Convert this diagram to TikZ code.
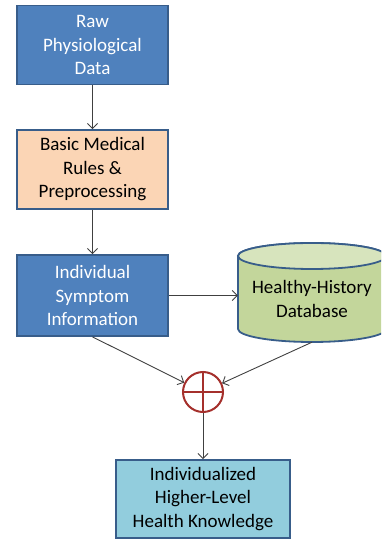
\documentclass[tikz,border=0pt]{standalone}
\usepackage{fontspec}
\setmainfont{Carlito}
\usetikzlibrary{arrows.meta}
\definecolor{bluefill}{HTML}{4F81BD}
\definecolor{boxborder}{HTML}{385D8A}
\definecolor{peach}{HTML}{FBD5B5}
\definecolor{greenbody}{HTML}{C3D69B}
\definecolor{greentop}{HTML}{D7E4BD}
\definecolor{cyanfill}{HTML}{92CDDD}
\definecolor{plusred}{HTML}{A5302C}
\definecolor{linegray}{HTML}{404040}
\begin{document}
\begin{tikzpicture}[x=1pt,y=1pt,
  lbl/.style={font=\fontsize{19}{23.5}\selectfont},
  box/.style={draw=boxborder, line width=1.8pt, align=center, inner sep=0pt, lbl},
  conn/.style={draw=linegray, line width=0.9pt, -{Straight Barb[length=5pt,width=10pt]}}]
\useasboundingbox (0,0) rectangle (381,539);
\clip (0,0) rectangle (381,539);
\node[box, fill=bluefill, text=white, minimum width=151pt, minimum height=79pt] (raw) at (92.5,494) {Raw\\Physiological\\Data};
\node[box, fill=peach, text=black, minimum width=151pt, minimum height=79pt] (rules) at (92.5,369.5) {Basic Medical\\Rules \&\\Preprocessing};
\node[box, fill=bluefill, text=white, minimum width=151pt, minimum height=81pt] (sym) at (92.5,243.5) {Individual\\Symptom\\Information};
\node[box, fill=cyanfill, text=black, minimum width=174pt, minimum height=78pt] (know) at (203,40) {Individualized\\Higher-Level\\Health Knowledge};
% database cylinder
\node[minimum width=148pt, minimum height=99pt, inner sep=0pt] (db) at (312,246.5) {};
\draw[boxborder, line width=1.8pt, fill=greenbody] (238,283) -- (238,210)
  arc[start angle=180, end angle=360, x radius=74pt, y radius=13pt] -- (386,283)
  arc[start angle=0, end angle=180, x radius=74pt, y radius=13pt] -- cycle;
\draw[boxborder, line width=1.8pt, fill=greentop] (312,283) ellipse[x radius=74pt, y radius=13pt];
\node[align=center, lbl, text=black] (dbtext) at (312,240) {Healthy-History\\Database};
% sum circle
\node[circle, draw=plusred, line width=2pt, fill=white, minimum size=40pt, inner sep=0pt] (sum) at (203,147) {};
\draw[plusred, line width=2pt] (sum.north) -- (sum.south) (sum.west) -- (sum.east);
% connectors
\draw[conn] (raw.south) -- (rules.north);
\draw[conn] (rules.south) -- (sym.north);
\draw[conn] (sym.east) -- (sym.east -| db.west);
\draw[conn] (sym.south) -- (sum);
\draw[conn] (db.south) -- (sum);
\draw[conn] (sum.south) -- (know.north);
\end{tikzpicture}
\end{document}
